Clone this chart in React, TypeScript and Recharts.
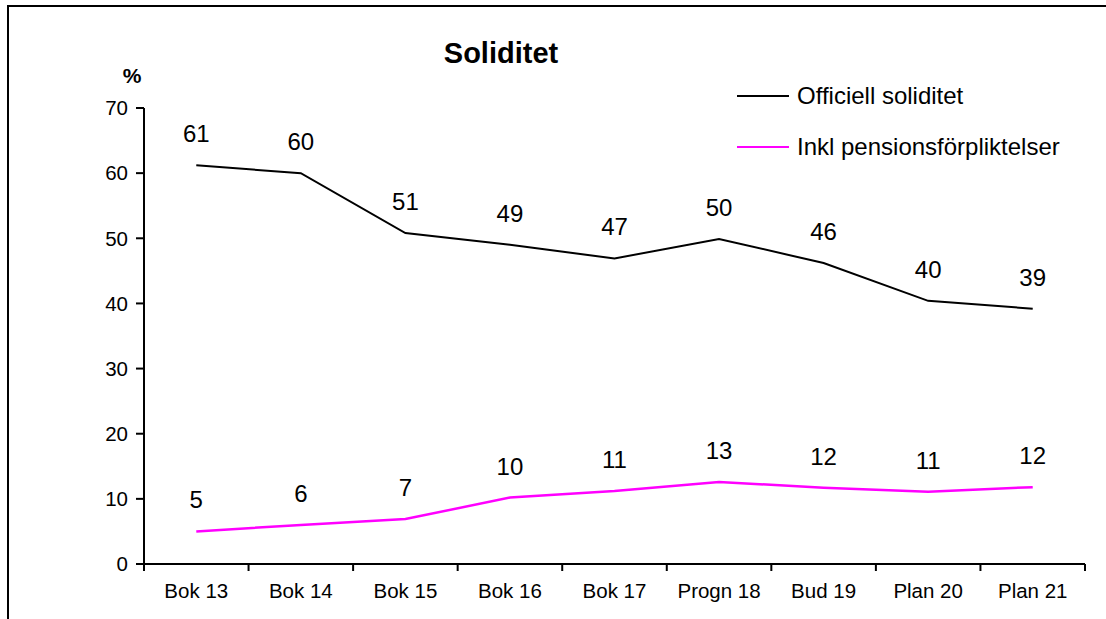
import { Customized, LabelList, Legend, Line, LineChart, XAxis, YAxis } from "recharts";

const categories = ["Bok 13", "Bok 14", "Bok 15", "Bok 16", "Bok 17", "Progn 18", "Bud 19", "Plan 20", "Plan 21"];
const officiellSoliditet = [61.2, 60.0, 50.8, 49.0, 46.9, 49.9, 46.2, 40.4, 39.2];
const inklPension = [5.0, 6.0, 6.9, 10.2, 11.2, 12.6, 11.7, 11.1, 11.8];
const yTicks = [0, 10, 20, 30, 40, 50, 60, 70];
const seriesNames = ["Officiell soliditet", "Inkl pensionsförpliktelser"];

const data = categories.map((name, i) => ({
  name,
  officiell: officiellSoliditet[i],
  pension: inklPension[i]
}));

const FONT = "'Liberation Sans', Arial, Helvetica, sans-serif";
const WIDTH = 1106;
const HEIGHT = 619;
const PLOT_LEFT = 144;
const PLOT_RIGHT = 1085;
const BAND = (PLOT_RIGHT - PLOT_LEFT) / categories.length;

function CategoryTick(props: any) {
  const { x, y, payload, index } = props;
  const axisY = y - 19;
  const half = BAND / 2;
  return (
    <g>
      <line x1={x - half} x2={x - half} y1={axisY} y2={axisY + 7} stroke="#000" strokeWidth={2} />
      {index === categories.length - 1 && (
        <line x1={x + half} x2={x + half} y1={axisY} y2={axisY + 7} stroke="#000" strokeWidth={2} />
      )}
      <text x={x} y={y} dy="0.71em" textAnchor="middle" fontSize={20.5} fill="#000" fontFamily={FONT}>
        {payload.value}
      </text>
    </g>
  );
}

function LegendBox({ payload }: any) {
  const items = [...(payload || [])].sort(
    (a: any, b: any) => seriesNames.indexOf(a.value) - seriesNames.indexOf(b.value)
  );
  return (
    <div style={{ fontFamily: FONT }}>
      {items.map((item: any) => (
        <div key={item.value} style={{ display: "flex", alignItems: "center", height: 51 }}>
          <svg width={52} height={4} style={{ marginRight: 8 }}>
            <line x1={0} x2={52} y1={2} y2={2} stroke={item.color} strokeWidth={2} />
          </svg>
          <span style={{ fontSize: 24, color: "#000", whiteSpace: "nowrap" }}>{item.value}</span>
        </div>
      ))}
    </div>
  );
}

function Titles() {
  return (
    <g fontFamily={FONT} fill="#000">
      <text x={501} y={63} textAnchor="middle" fontSize={29} fontWeight="bold">
        Soliditet
      </text>
      <text x={132} y={83} textAnchor="middle" fontSize={21} fontWeight="bold">
        %
      </text>
    </g>
  );
}

export default function App() {
  return (
    <div
      style={{
        position: "fixed",
        left: 0,
        top: 0,
        width: WIDTH,
        height: HEIGHT,
        overflow: "hidden",
        background: "#fff"
      }}
    >
      <div
        style={{
          position: "absolute",
          left: 7,
          top: 5,
          width: 1200,
          height: 700,
          borderTop: "2px solid #000",
          borderLeft: "2px solid #000"
        }}
      />
      <div style={{ position: "absolute", left: 0, top: 0 }}>
        <LineChart
          width={WIDTH}
          height={HEIGHT}
          data={data}
          margin={{ top: 108, right: WIDTH - PLOT_RIGHT, bottom: 15, left: PLOT_LEFT - 60 }}
        >
          <XAxis
            dataKey="name"
            height={40}
            padding={{ left: BAND / 2, right: BAND / 2 }}
            axisLine={{ stroke: "#000", strokeWidth: 2 }}
            tickLine={false}
            tickSize={8}
            tickMargin={11}
            interval={0}
            tick={<CategoryTick />}
          />
          <YAxis
            width={60}
            domain={[0, 70]}
            ticks={yTicks}
            interval={0}
            axisLine={{ stroke: "#000", strokeWidth: 2 }}
            tickLine={{ stroke: "#000", strokeWidth: 2 }}
            tickSize={8}
            tickMargin={8}
            tick={{ fill: "#000", fontSize: 20.5, fontFamily: FONT }}
          />
          <Legend
            layout="vertical"
            align="center"
            verticalAlign="middle"
            content={<LegendBox />}
            wrapperStyle={{ left: 737, top: 70, width: 360 }}
          />
          <Line
            name={seriesNames[0]}
            dataKey="officiell"
            stroke="#000"
            strokeWidth={2}
            dot={false}
            type="linear"
            isAnimationActive={false}
          >
            <LabelList
              dataKey="officiell"
              position="top"
              offset={23}
              formatter={(v: any) => Math.round(Number(v))}
              fill="#000"
              fontSize={24}
              fontFamily={FONT}
            />
          </Line>
          <Line
            name={seriesNames[1]}
            dataKey="pension"
            stroke="#ff00ff"
            strokeWidth={2.5}
            dot={false}
            type="linear"
            isAnimationActive={false}
          >
            <LabelList
              dataKey="pension"
              position="top"
              offset={23}
              formatter={(v: any) => Math.round(Number(v))}
              fill="#000"
              fontSize={24}
              fontFamily={FONT}
            />
          </Line>
          <Customized component={<Titles />} />
        </LineChart>
      </div>
    </div>
  );
}
